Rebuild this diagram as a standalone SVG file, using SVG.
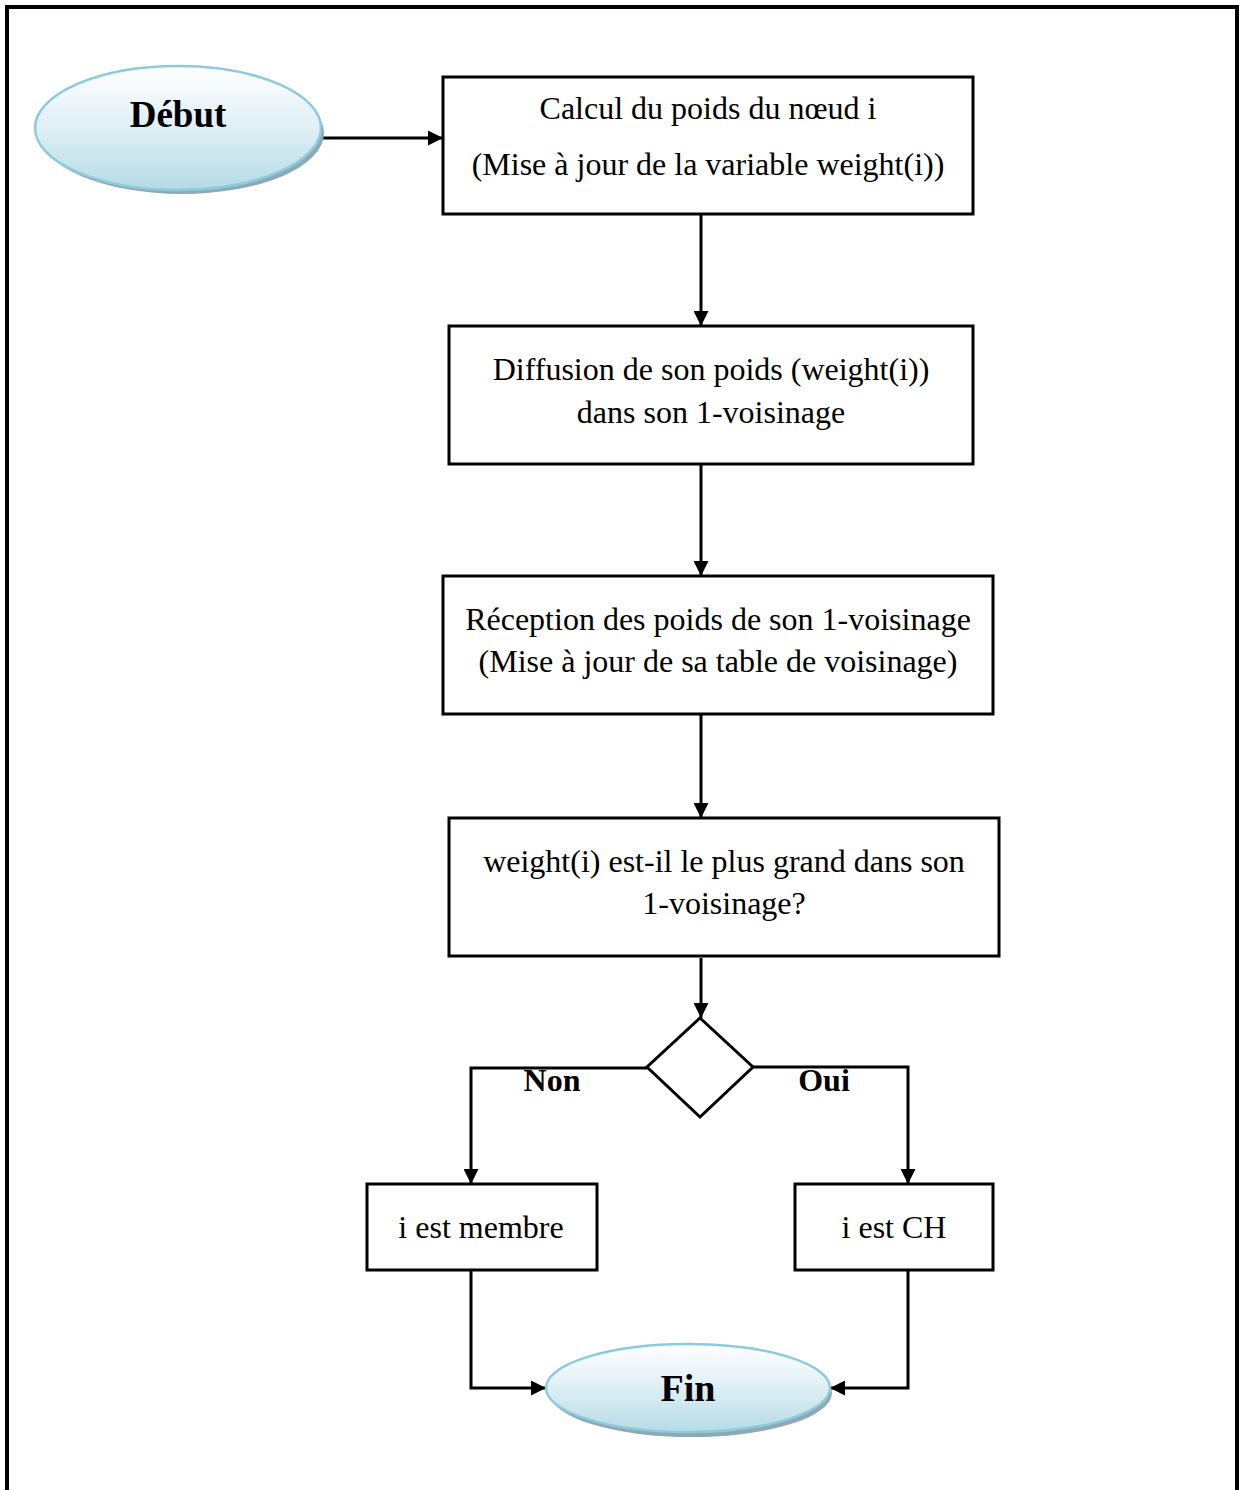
<svg xmlns="http://www.w3.org/2000/svg" width="1239" height="1490" viewBox="0 0 1239 1490">
  <style>
    .box { fill: #ffffff; stroke: #000000; stroke-width: 3; }
    .txt { font-family: "Liberation Serif", "Times New Roman", serif; font-size: 32px; fill: #000000; text-anchor: middle; }
    .bold { font-family: "Liberation Serif", "Times New Roman", serif; font-weight: bold; fill: #000000; text-anchor: middle; }
    .wire { fill: none; stroke: #000000; stroke-width: 3; }
    .term { fill: url(#termFill); stroke: #8ccbdc; stroke-width: 2.5; }
    .shadow { fill: #8fa9b3; }
  </style>
  <defs>
    <linearGradient id="termFill" x1="0" y1="0" x2="0" y2="1">
      <stop offset="0" stop-color="#ffffff"/>
      <stop offset="0.45" stop-color="#e2f1f6"/>
      <stop offset="1" stop-color="#b5dbe6"/>
    </linearGradient>
    <marker id="arrow" viewBox="0 0 10 10" refX="10" refY="5" markerWidth="5.5" markerHeight="5" orient="auto" markerUnits="strokeWidth">
      <path d="M0,0 L10,5 L0,10 z" fill="#000000"/>
    </marker>
  </defs>

  <rect width="1239" height="1490" fill="#ffffff"/>
  <!-- page frame -->
  <path d="M7,1490 L7,7 L1237,7 L1237,1490" fill="none" stroke="#000000" stroke-width="4"/>

  <g id="connectors">
    <path class="wire" d="M320,138 L443,138" marker-end="url(#arrow)"/>
    <path class="wire" d="M701,214 L701,326" marker-end="url(#arrow)"/>
    <path class="wire" d="M701,464 L701,576" marker-end="url(#arrow)"/>
    <path class="wire" d="M701,714 L701,818" marker-end="url(#arrow)"/>
    <path class="wire" d="M701,958 L701,1018" marker-end="url(#arrow)"/>
    <path class="wire" d="M647,1068 L471,1068 L471,1184" marker-end="url(#arrow)"/>
    <path class="wire" d="M753,1067 L908,1067 L908,1184" marker-end="url(#arrow)"/>
    <path class="wire" d="M471,1270 L471,1388 L546,1388" marker-end="url(#arrow)"/>
    <path class="wire" d="M908,1270 L908,1388 L830,1388" marker-end="url(#arrow)"/>
    <text class="bold" x="552" y="1091" font-size="32">Non</text>
    <text class="bold" x="824" y="1091" font-size="32">Oui</text>
  </g>

  <g id="debut">
    <ellipse class="shadow" cx="182" cy="133" rx="142" ry="61"/>
    <ellipse class="term" cx="178" cy="128" rx="143" ry="62"/>
    <text class="bold" x="178" y="127" font-size="37">Début</text>
  </g>

  <g id="calcul">
    <rect class="box" x="443" y="77" width="530" height="137"/>
    <text class="txt" x="708" y="119">Calcul du poids du nœud i</text>
    <text class="txt" x="708" y="175">(Mise à jour de la variable weight(i))</text>
  </g>

  <g id="diffusion">
    <rect class="box" x="449" y="326" width="524" height="138"/>
    <text class="txt" x="711" y="380">Diffusion de son poids (weight(i))</text>
    <text class="txt" x="711" y="423">dans son 1-voisinage</text>
  </g>

  <g id="reception">
    <rect class="box" x="443" y="576" width="550" height="138"/>
    <text class="txt" x="718" y="630">Réception des poids de son 1-voisinage</text>
    <text class="txt" x="718" y="672">(Mise à jour de sa table de voisinage)</text>
  </g>

  <g id="test">
    <rect class="box" x="449" y="818" width="550" height="138"/>
    <text class="txt" x="724" y="872">weight(i) est-il le plus grand dans son</text>
    <text class="txt" x="724" y="914">1-voisinage?</text>
  </g>

  <g id="decision">
    <polygon class="box" points="700,1018 753,1067 700,1117 647,1067"/>
  </g>

  <g id="membre">
    <rect class="box" x="367" y="1184" width="230" height="86"/>
    <text class="txt" x="481" y="1238">i est membre</text>
  </g>

  <g id="ch">
    <rect class="box" x="795" y="1184" width="198" height="86"/>
    <text class="txt" x="894" y="1238">i est CH</text>
  </g>

  <g id="fin">
    <ellipse class="shadow" cx="691" cy="1393" rx="141" ry="44"/>
    <ellipse class="term" cx="688" cy="1388" rx="142" ry="44"/>
    <text class="bold" x="688" y="1401" font-size="38">Fin</text>
  </g>
</svg>
